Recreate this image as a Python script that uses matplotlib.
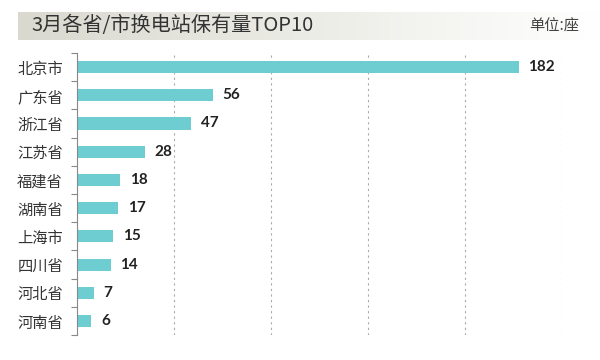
import numpy as np
import matplotlib.pyplot as plt
from matplotlib.ticker import MultipleLocator

plt.rcParams['font.family'] = ['Noto Sans CJK SC', 'DejaVu Sans']

provinces = ['北京市', '广东省', '浙江省', '江苏省', '福建省',
             '湖南省', '上海市', '四川省', '河北省', '河南省']
stations = [182, 56, 47, 28, 18, 17, 15, 14, 7, 6]

fig = plt.figure(figsize=(6, 3.6), dpi=100)

# title band with a fading grey gradient
band = fig.add_axes([0.03, 0.889, 0.97, 0.078])
grad = np.linspace(0, 1, 256).reshape(1, -1)
band.imshow(grad, aspect='auto', cmap=plt.cm.colors.LinearSegmentedColormap.from_list(
    'band', ['#d9d9d0', '#ecece6', '#ffffff']), extent=[0, 1, 0, 1])
band.set_axis_off()
fig.text(0.053, 0.928, '3月各省/市换电站保有量TOP10', fontsize=14.5, color='#333333', va='center')
fig.text(0.966, 0.928, '单位:座', fontsize=11, color='#444444', va='center', ha='right')

ax = fig.add_axes([0.128, 0.069, 0.809, 0.784])
y = np.arange(len(provinces))
ax.barh(y, stations, height=0.43, color='#6dcdd1', zorder=2)
for yi, v in zip(y, stations):
    ax.text(v + 4, yi, str(v), va='center', ha='left', fontsize=11,
            fontweight='bold', color='#222222', family=['Lato', 'DejaVu Sans'])

ax.set_xlim(0, 200)
ax.set_ylim(len(provinces) - 0.5, -0.5)
ax.xaxis.set_major_locator(MultipleLocator(40))
ax.grid(axis='x', linestyle=(0, (2, 3)), color='#aaaaaa', linewidth=0.8, zorder=0)
ax.tick_params(axis='x', length=0, labelbottom=False)

ax.set_yticks(y)
ax.set_yticklabels(provinces, fontsize=11, color='#333333')
ax.set_yticks(np.arange(-0.5, len(provinces)), minor=True)
ax.tick_params(axis='y', which='major', length=0, pad=10)
ax.tick_params(axis='y', which='minor', length=4, color='#888888', width=0.8)

for side in ['top', 'right', 'bottom']:
    ax.spines[side].set_visible(False)
ax.spines['left'].set_color('#888888')
ax.spines['left'].set_linewidth(0.8)

fig.savefig('out.png', dpi=100)
